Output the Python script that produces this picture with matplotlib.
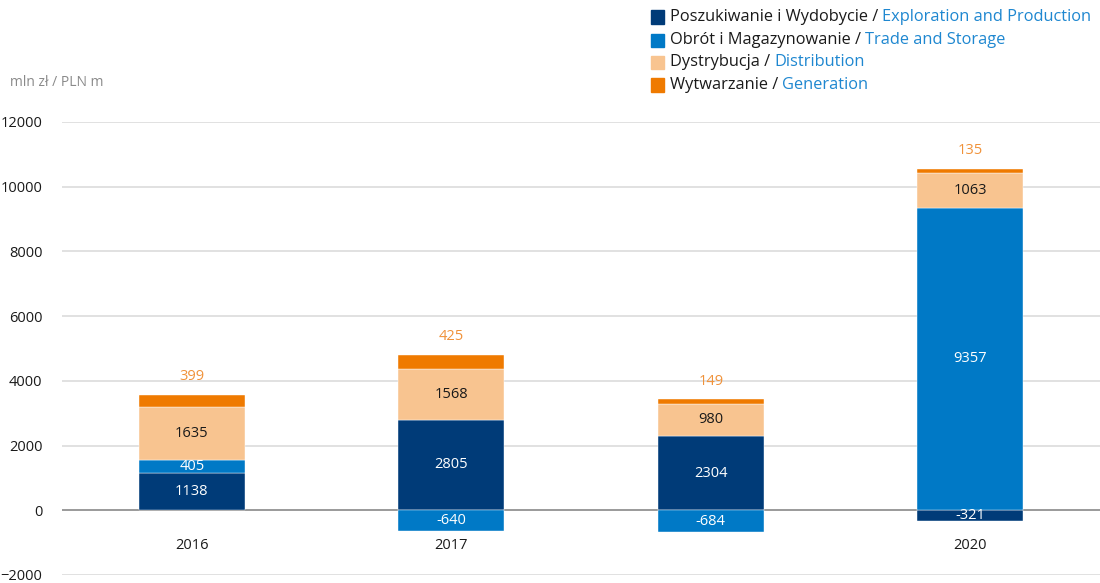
import matplotlib.pyplot as plt
import numpy as np

plt.rcParams['font.family'] = ['Open Sans', 'DejaVu Sans']

years = ['2016', '2017', '', '2020']
exploration = [1138, 2805, 2304, -321]
trade = [405, -640, -684, 9357]
distribution = [1635, 1568, 980, 1063]
generation = [399, 425, 149, 135]

series_pl = ['Poszukiwanie i Wydobycie', 'Obrót i Magazynowanie', 'Dystrybucja', 'Wytwarzanie']
series_en = ['Exploration and Production', 'Trade and Storage', 'Distribution', 'Generation']
colors = ['#003B78', '#0079C6', '#F8C490', '#EF7A00']
label_colors = ['white', 'white', '#1a1a1a', '#F0923A']
en_color = '#1E87D0'

fig = plt.figure(figsize=(11, 5.83), dpi=100)
ax = fig.add_axes([62 / 1100, 8 / 583, 1 - 62 / 1100, 453 / 583])

x = np.arange(len(years))
width = 0.41
pos_base = np.zeros(len(years))
neg_base = np.zeros(len(years))
for k, vals in enumerate([exploration, trade, distribution, generation]):
    vals = np.array(vals, dtype=float)
    bottoms = np.where(vals >= 0, pos_base, neg_base)
    ax.bar(x, vals, width, bottom=bottoms, color=colors[k], zorder=3,
           edgecolor='white', linewidth=0.3)
    for i, v in enumerate(vals):
        if k == 3:
            ax.text(x[i], bottoms[i] + v + 330, f'{int(v)}', ha='center', va='bottom',
                    color=label_colors[k], fontsize=10.5, zorder=4)
        else:
            ax.text(x[i], bottoms[i] + v / 2, f'{int(v)}', ha='center', va='center',
                    color=label_colors[k], fontsize=10.5, zorder=4)
    pos_base = np.where(vals >= 0, pos_base + vals, pos_base)
    neg_base = np.where(vals < 0, neg_base + vals, neg_base)

ax.set_xlim(-0.5, 3.5)
ax.set_ylim(-2000, 12000)
ax.set_yticks(np.arange(-2000, 12001, 2000))
ax.set_xticks([])
for y in np.arange(-2000, 12001, 2000):
    if y == 0:
        ax.axhline(y, color='#9a9a9a', lw=1.4, zorder=2)
    else:
        ax.axhline(y, color='#dcdcdc', lw=1.2, zorder=1)
for s in ax.spines.values():
    s.set_visible(False)
ax.tick_params(axis='y', length=0, pad=14, labelsize=10.5, labelcolor='#1a1a1a')
for i, yr in enumerate(years):
    ax.text(x[i], -1100, yr, ha='center', va='center', fontsize=10.5, color='#1a1a1a')

fig.text(10 / 1100, 1 - 83 / 583, 'mln zł / PLN m', fontsize=10, color='#8a8a8a',
         va='center', ha='left')

# legend with two-coloured labels
fig.canvas.draw()
renderer = fig.canvas.get_renderer()
rows_y = [17, 40, 62, 85]
for k in range(4):
    yf = 1 - rows_y[k] / 583
    fig.patches.append(plt.Rectangle((651 / 1100, yf - 6.5 / 583), 13 / 1100, 13 / 583,
                                     transform=fig.transFigure, color=colors[k]))
    t1 = fig.text(670 / 1100, yf, series_pl[k] + ' / ', fontsize=11.8, color='#1a1a1a',
                  va='center', ha='left')
    bb = t1.get_window_extent(renderer)
    fig.text(bb.x1 / 1100, yf, series_en[k], fontsize=11.8, color=en_color,
             va='center', ha='left')

fig.savefig('out.png', dpi=100)
